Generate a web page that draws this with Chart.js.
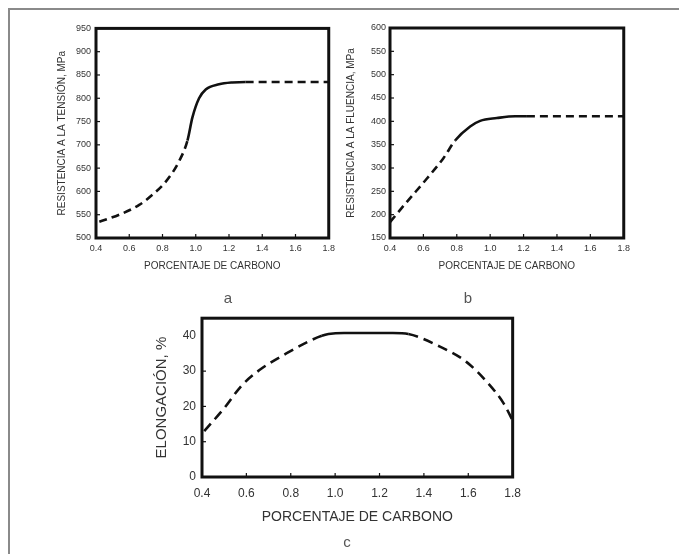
<!DOCTYPE html>
<html>
<head>
<meta charset="utf-8">
<script src="https://cdn.jsdelivr.net/npm/chart.js@4.4.1/dist/chart.umd.min.js"></script>
<style>
  body { margin: 0; background: #fff; width: 679px; height: 554px; overflow: hidden; position: relative; font-family: "Liberation Sans", Arial, sans-serif; }
  .frame { position: absolute; left: 8px; top: 8px; width: 700px; height: 600px; border-left: 2px solid #8a8a8a; border-top: 2px solid #8a8a8a; }
  .box { position: absolute; }
  .tag { position: absolute; color: #555; font-size: 15px; transform: translate(-50%, -50%); }
</style>
</head>
<body>
<div class="frame"></div>
<div class="box" style="left:40px; top:18px; width:300px; height:262px;"><canvas id="chartA"></canvas></div>
<div class="box" style="left:330px; top:18px; width:305px; height:262px;"><canvas id="chartB"></canvas></div>
<div class="box" style="left:130px; top:305px; width:400px; height:249px;"><canvas id="chartC"></canvas></div>
<div class="tag" style="left:228px; top:297px;">a</div>
<div class="tag" style="left:468px; top:297px;">b</div>
<div class="tag" style="left:347px; top:541px;">c</div>

<script>
// x ticks shared by all three graphs
const carbonTicks = [0.4, 0.6, 0.8, 1.0, 1.2, 1.4, 1.6, 1.8];

// a - tensile strength
const carbonA  = [0.42, 0.54, 0.66, 0.74, 0.82, 0.90, 0.95, 0.98, 1.02, 1.06, 1.14, 1.22, 1.30, 1.55, 1.80];
const tensionA = [535, 550, 571, 593, 621, 665, 709, 759, 800, 819, 830, 834, 835, 835, 835];
const ticksA   = [500, 550, 600, 650, 700, 750, 800, 850, 900, 950];

// b - yield strength
const carbonB = [0.40, 0.50, 0.62, 0.72, 0.79, 0.88, 0.94, 1.04, 1.15, 1.22, 1.50, 1.80];
const yieldB  = [184, 227, 277, 321, 359, 389, 401, 407, 411, 411, 411, 411];
const ticksB  = [150, 200, 250, 300, 350, 400, 450, 500, 550, 600];

// c - elongation
const carbonC = [0.41, 0.50, 0.58, 0.67, 0.78, 0.88, 0.94, 0.97, 1.04, 1.26, 1.33, 1.47, 1.59, 1.69, 1.76, 1.80];
const elongC  = [13, 19.5, 26, 30.8, 35, 38.4, 40.0, 40.5, 40.8, 40.8, 40.5, 37, 32.7, 26.5, 20.8, 16];
const ticksC  = [0, 10, 20, 30, 40];

const FONT = '"Liberation Sans", Arial, sans-serif';

// black box round the plot area plus small inward tick marks
const framePlugin = {
    id: 'frame',
    afterDatasetsDraw(chart) {
        const {ctx, chartArea: a, scales} = chart;
        ctx.save();
        ctx.strokeStyle = '#111';
        ctx.lineWidth = 1.2;
        scales.x.ticks.forEach((t, i, arr) => {
            if (i === 0 || i === arr.length - 1) return;
            const px = scales.x.getPixelForValue(t.value);
            ctx.beginPath(); ctx.moveTo(px, a.bottom); ctx.lineTo(px, a.bottom - 4); ctx.stroke();
        });
        scales.y.ticks.forEach((t, i, arr) => {
            if (i === 0 || i === arr.length - 1) return;
            const py = scales.y.getPixelForValue(t.value);
            ctx.beginPath(); ctx.moveTo(a.left, py); ctx.lineTo(a.left + 4, py); ctx.stroke();
        });
        ctx.lineWidth = 3;
        ctx.strokeRect(a.left, a.top, a.right - a.left, a.bottom - a.top);
        ctx.restore();
    }
};

function makeChart(id, xs, ys, yTicks, opt) {
    const points = xs.map((x, i) => ({x: x, y: ys[i]}));
    return new Chart(document.getElementById(id), {
        type: 'scatter',
        data: {
            datasets: [{
                data: points,
                showLine: true,
                borderColor: '#111',
                borderWidth: 2.6,
                pointRadius: 0,
                cubicInterpolationMode: 'monotone',
                segment: {
                    // dashed where the curve is only estimated
                    borderDash: ctx => (ctx.p1.parsed.x <= opt.solidFrom || ctx.p0.parsed.x >= opt.solidTo) ? opt.dash : []
                }
            }]
        },
        options: {
            responsive: true,
            maintainAspectRatio: false,
            animation: false,
            layout: { padding: opt.pad },
            plugins: { legend: { display: false }, tooltip: { enabled: false } },
            scales: {
                x: {
                    type: 'linear',
                    min: 0.4, max: 1.8,
                    grid: { display: false, tickLength: 0 },
                    border: { display: false },
                    afterBuildTicks: s => { s.ticks = carbonTicks.map(v => ({value: v})); },
                    afterFit: s => { s.height = opt.xH; },
                    ticks: {
                        padding: opt.xPad,
                        maxRotation: 0,
                        autoSkip: false,
                        color: '#333',
                        font: { family: FONT, size: opt.tickSize },
                        callback: v => v.toFixed(1)
                    },
                    title: {
                        display: true,
                        text: 'PORCENTAJE DE CARBONO',
                        color: '#333',
                        font: { family: FONT, size: opt.titleSize },
                        padding: { top: 0, bottom: opt.xTitlePad }
                    }
                },
                y: {
                    min: yTicks[0], max: opt.yMax,
                    grid: { display: false, tickLength: 0 },
                    border: { display: false },
                    afterBuildTicks: s => { s.ticks = yTicks.map(v => ({value: v})); },
                    afterFit: s => { s.width = opt.yW; },
                    ticks: {
                        padding: opt.yPad,
                        autoSkip: false,
                        color: '#333',
                        font: { family: FONT, size: opt.tickSize }
                    },
                    title: {
                        display: true,
                        text: opt.yTitle,
                        color: '#333',
                        font: { family: FONT, size: opt.yTitleSize },
                        padding: { top: opt.yTitlePad, bottom: 0 }
                    }
                }
            }
        },
        plugins: [framePlugin]
    });
}

makeChart('chartA', carbonA, tensionA, ticksA, {
    solidFrom: 0.95, solidTo: 1.30, yMax: 950, dash: [8, 5],
    pad: { left: 0, right: 9, top: 10, bottom: 0 },
    yW: 56, xH: 42, xPad: 5, yPad: 5, tickSize: 9,
    titleSize: 10, yTitleSize: 10, xTitlePad: 8, yTitlePad: 16,
    yTitle: 'RESISTENCIA A LA TENSIÓN, MPa'
});

makeChart('chartB', carbonB, yieldB, ticksB, {
    solidFrom: 0.79, solidTo: 1.22, yMax: 600, dash: [8, 5],
    pad: { left: 0, right: 10, top: 10, bottom: 0 },
    yW: 60, xH: 42, xPad: 5, yPad: 4, tickSize: 9,
    titleSize: 10, yTitleSize: 10, xTitlePad: 8, yTitlePad: 15,
    yTitle: 'RESISTENCIA A LA FLUENCIA, MPa'
});

makeChart('chartC', carbonC, elongC, ticksC, {
    solidFrom: 0.94, solidTo: 1.33, yMax: 45, dash: [10, 6],
    pad: { left: 0, right: 12, top: 13, bottom: 0 },
    yW: 72, xH: 77, xPad: 9, yPad: 6, tickSize: 12,
    titleSize: 14, yTitleSize: 15, xTitlePad: 28, yTitlePad: 23,
    yTitle: 'ELONGACIÓN, %'
});
</script>
</body>
</html>
